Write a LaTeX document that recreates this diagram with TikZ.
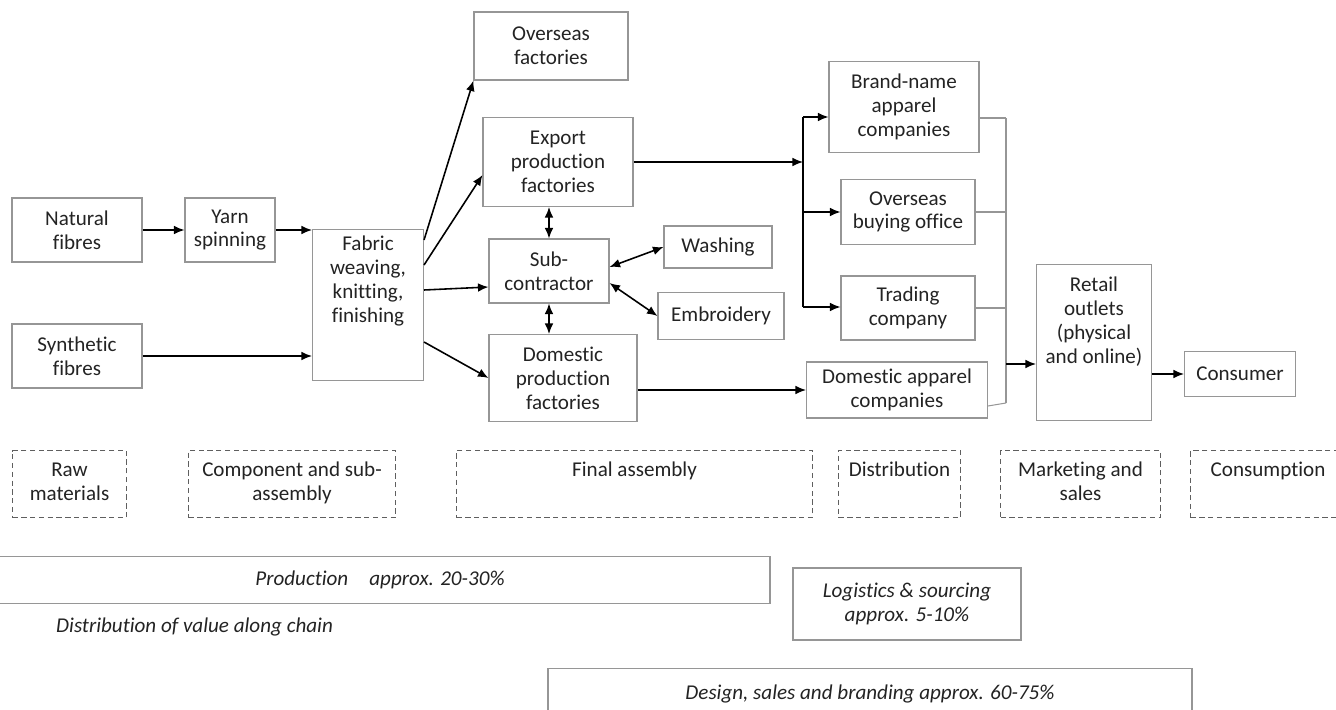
\documentclass[tikz,border=0pt]{standalone}
\usepackage{fontspec}
\setmainfont{Carlito}[Ligatures=NoCommon]
\usetikzlibrary{arrows.meta, positioning, calc}
\definecolor{frame1}{RGB}{150,150,150}
\definecolor{dash1}{RGB}{95,95,95}
\definecolor{ink1}{RGB}{35,35,35}
\newcommand{\toptext}[4]{\parbox[c][#2][t]{#1}{\centering\rule{0pt}{#3}#4\par}}

\begin{document}
\begin{tikzpicture}[x=0.02cm, y=-0.02cm,
    every node/.style={font=\fontsize{12}{13.6}\selectfont, text=ink1},
    block/.style={draw=frame1, line width=0.6pt, align=center, inner sep=1pt},
    tallblock/.style={draw=frame1, line width=0.6pt, inner sep=0pt, anchor=north},
    stage/.style={draw=dash1, densely dashed, line width=0.6pt, inner sep=0pt, anchor=north west},
    share/.style={draw=frame1, line width=0.8pt, align=center, font=\fontsize{12}{13.6}\selectfont\itshape},
    flow/.style={-{Latex[length=6pt, width=5pt]}, line width=0.9pt, black},
    twoway/.style={{Latex[length=6pt, width=5pt]}-{Latex[length=6pt, width=5pt]}, line width=0.9pt, black},
    merge/.style={draw=frame1, line width=0.6pt}
]
    \useasboundingbox (0,0) rectangle (1336,710);

    % raw materials and fabric
    \node[block, minimum width=2.6cm, minimum height=1.28cm] (natural) at (77,230) {Natural\\fibres};
    \node[block, minimum width=1.8cm, minimum height=1.28cm] (yarn) at (230,230) {Yarn\\spinning};
    \node[block, minimum width=2.6cm, minimum height=1.28cm] (synthetic) at (77,356) {Synthetic\\fibres};
    \node[tallblock] (fabric) at (368,229) {\toptext{2.22cm}{3.02cm}{12pt}{Fabric\\weaving,\\knitting,\\finishing}};

    % assembly
    \node[block, minimum width=3.08cm, minimum height=1.36cm] (overseas) at (551,46) {Overseas\\factories};
    \node[block, minimum width=3.0cm, minimum height=1.78cm] (export) at (558,162) {Export\\production\\factories};
    \node[block, minimum width=2.4cm, minimum height=1.28cm] (sub) at (549,271) {Sub-\\contractor};
    \node[block, minimum width=2.16cm, minimum height=0.84cm] (washing) at (718,247) {Washing};
    \node[block, minimum width=2.52cm, minimum height=0.94cm] (embroidery) at (721,316) {Embroidery};
    \node[block, minimum width=2.96cm, minimum height=1.74cm] (domestic) at (563,378) {Domestic\\production\\factories};

    % distribution and sales
    \node[block, minimum width=3.0cm, minimum height=1.82cm] (brand) at (904,107) {Brand-name\\apparel\\companies};
    \node[block, minimum width=2.68cm, minimum height=1.3cm] (buying) at (908,212) {Overseas\\buying office};
    \node[block, minimum width=2.68cm, minimum height=1.28cm] (trading) at (908,308) {Trading\\company};
    \node[block, minimum width=3.62cm, minimum height=1.12cm] (domapp) at (897,390) {Domestic apparel\\companies};
    \node[tallblock] (retail) at (1094,264) {\toptext{2.3cm}{3.12cm}{15.5pt}{Retail\\outlets\\(physical\\and online)}};
    \node[block, minimum width=2.22cm, minimum height=0.9cm] (consumer) at (1240,374) {Consumer};

    \draw[flow] (natural) -- (yarn);
    \draw[flow] (yarn.east) -- (yarn.east -| fabric.west);
    \draw[flow] (synthetic.east) -- (synthetic.east -| fabric.west);
    \draw[flow] ($(fabric.north east)+(0,11)$) -- (overseas.south west);
    \draw[flow] ($(fabric.north east)+(0,36)$) -- ($(export.west)+(0,13)$);
    \draw[flow] ($(fabric.north east)+(0,61)$) -- ($(sub.west)+(0,16)$);
    \draw[flow] ($(fabric.north east)+(0,113)$) -- (domestic.west);
    \draw[twoway] (sub.north |- export.south) -- (sub.north);
    \draw[twoway] (sub.south) -- (sub.south |- domestic.north);
    \draw[twoway] ($(sub.east)+(0,-4)$) -- (washing.west);
    \draw[twoway] ($(sub.east)+(0,12)$) -- (embroidery.west);

    % split towards buyers
    \coordinate (sTop) at (803,117);
    \coordinate (sBot) at (803,307);
    \draw[line width=0.9pt] (sTop) -- (sBot);
    \draw[flow] (export.east) -- (export.east -| sTop);
    \draw[flow] (sTop) -- (sTop -| brand.west);
    \draw[flow] (sTop |- buying) -- (buying.west);
    \draw[flow] (sBot) -- (sBot -| trading.west);
    \draw[flow] (domestic.east |- domapp.west) -- (domapp.west);

    % merge towards retail
    \coordinate (mTop) at (1006,118);
    \coordinate (mBot) at (1006,403);
    \coordinate (mMid) at (1006,364);
    \coordinate (dTail) at (988,406);
    \draw[merge] (mTop) -- (mBot);
    \draw[merge] (brand.east |- mTop) -- (mTop);
    \draw[merge] (buying.east) -- (buying.east -| mTop);
    \draw[merge] (trading.east) -- (trading.east -| mTop);
    \draw[merge] (dTail) -- (mBot);
    \draw[flow] (mMid) -- (mMid -| retail.west);
    \draw[flow] (retail.east |- consumer) -- (consumer.west);

    % stages
    \foreach \nm/\l/\r/\txt in {raw/12/126/{Raw\\materials}, comp/188/395/{Component and sub-\\assembly}, final/456/812/{Final assembly}, dist/838/960/{Distribution}, market/1000/1160/{Marketing and\\sales}, cons/1190/1345/{Consumption}}
    {
        \pgfmathsetmacro{\stagew}{(\r-\l)*0.02}
        \node[stage, name=\nm] at (\l,450) {\toptext{\stagew cm}{1.34cm}{15pt}{\txt}};
    }

    % value shares
    \node[share, minimum width=15.6cm, minimum height=0.94cm] (production) at (380,580) {Production\quad approx. 20-30\%};
    \node[share, minimum width=4.56cm, minimum height=1.44cm] (logistics) at (907,604) {Logistics \& sourcing\\approx. 5-10\%};
    \node[share, anchor=north, minimum width=12.88cm, minimum height=1.0cm] (design) at (870,668) {Design, sales and branding approx. 60-75\%};
    \node[font=\fontsize{12}{13.6}\selectfont\itshape, anchor=west] (caption) at (50,627) {Distribution of value along chain};
\end{tikzpicture}
\end{document}
